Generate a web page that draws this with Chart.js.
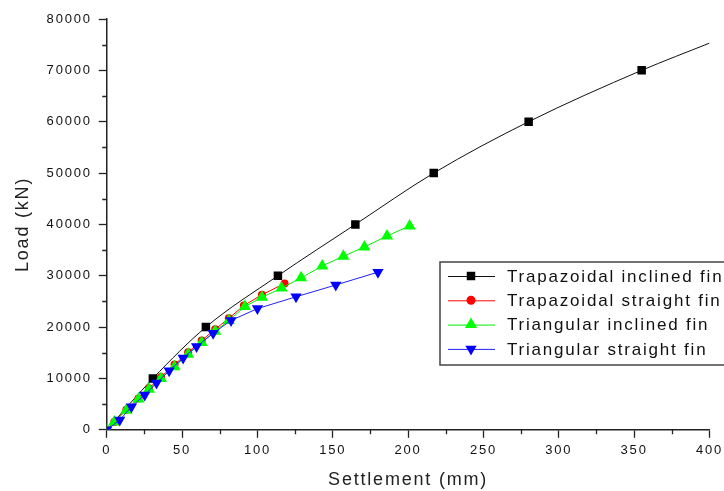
<!DOCTYPE html>
<html>
<head>
<meta charset="utf-8">
<script src="https://cdn.jsdelivr.net/npm/chart.js@4.4.1/dist/chart.umd.min.js"></script>
<style>
  html, body { margin: 0; padding: 0; background: #fff; overflow: hidden; }
  #wrap { width: 728px; height: 491px; }
</style>
</head>
<body>
<div id="wrap"><canvas id="loadChart"></canvas></div>
<script>
// settlement (mm) vs load (kN)
const trapInclinedX = [0, 30.6, 65.8, 113.6, 165, 217, 280, 355, 400];
const trapInclinedY = [0, 10000, 20000, 30000, 40000, 50000, 60000, 70000, 75300];
const trapInclinedR = [0, 6, 6, 6, 6, 6, 6, 6, 0];

const trapStraightX = [0, 5, 13, 21, 28, 36, 45, 54, 63, 72, 81, 91, 103, 118];
const trapStraightY = [0, 1500, 3900, 6100, 8100, 10300, 12700, 15100, 17400, 19600, 21700, 24200, 26300, 28500];

const triInclinedX = [0, 5, 13, 21, 28, 36, 45, 54, 63, 72, 81, 91.7, 103, 116, 129, 143, 157, 171, 186, 201];
const triInclinedY = [0, 1500, 3800, 6000, 7900, 10000, 12300, 14700, 17000, 19200, 21300, 24000, 25800, 27600, 29600, 31900, 33800, 35600, 37750, 39700];

const triStraightX = [0, 8.6, 16.4, 25.2, 33, 41.4, 50.7, 59.6, 70.6, 82.5, 100, 125.6, 152, 180];
const triStraightY = [0, 1900, 4500, 6800, 9100, 11500, 14000, 16200, 18800, 21300, 23600, 25900, 28200, 30700];

const xTicks = [0, 50, 100, 150, 200, 250, 300, 350, 400];
const yTicks = [0, 10000, 20000, 30000, 40000, 50000, 60000, 70000, 80000];

const seriesNames = ['Trapazoidal inclined fin', 'Trapazoidal straight fin', 'Triangular inclined fin', 'Triangular straight fin'];

const FONT = '"Liberation Sans", Arial, sans-serif';

function pts(xs, ys) {
    return xs.map(function (x, i) { return { x: x, y: ys[i] }; });
}

function drawMarker(ctx, style, x, y, r) {
    ctx.beginPath();
    if (style === 'rect') {
        const s = r * Math.SQRT1_2;
        ctx.rect(x - s, y - s, 2 * s, 2 * s);
    } else if (style === 'circle') {
        ctx.arc(x, y, r, 0, Math.PI * 2);
    } else {
        const dir = style === 'down' ? -1 : 1;
        for (let k = 0; k < 3; k++) {
            const a = k * 2 * Math.PI / 3;
            const px = x + Math.sin(a) * r;
            const py = y - dir * Math.cos(a) * r;
            if (k === 0) ctx.moveTo(px, py); else ctx.lineTo(px, py);
        }
        ctx.closePath();
    }
    ctx.fill();
}

const spacing = {
    id: 'spacing',
    beforeLayout(chart) { chart.ctx.letterSpacing = '1.8px'; },
    beforeDraw(chart) { chart.ctx.letterSpacing = '1.8px'; }
};

const minorTicks = {
    id: 'minorTicks',
    afterDraw(chart) {
        const ctx = chart.ctx;
        const xs = chart.scales.x;
        const ys = chart.scales.y;
        ctx.save();
        ctx.strokeStyle = '#222';
        ctx.lineWidth = 1.3;
        ctx.beginPath();
        for (let i = 0; i < xTicks.length - 1; i++) {
            const px = Math.round(xs.getPixelForValue((xTicks[i] + xTicks[i + 1]) / 2)) + 0.5;
            ctx.moveTo(px, xs.top);
            ctx.lineTo(px, xs.top + 4.5);
        }
        for (let i = 0; i < yTicks.length - 1; i++) {
            const py = Math.round(ys.getPixelForValue((yTicks[i] + yTicks[i + 1]) / 2)) + 0.5;
            ctx.moveTo(ys.right, py);
            ctx.lineTo(ys.right - 4.5, py);
        }
        ctx.stroke();
        ctx.restore();
    }
};

const boxLegend = {
    id: 'boxLegend',
    afterDraw(chart) {
        const ctx = chart.ctx;
        const left = 440, top = 262, bottom = 365;
        ctx.save();
        ctx.strokeStyle = '#444';
        ctx.lineWidth = 1.5;
        ctx.fillStyle = '#fff';
        ctx.fillRect(left, top, 300, bottom - top);
        ctx.strokeRect(left, top, 300, bottom - top);
        ctx.font = '17px ' + FONT;
        ctx.letterSpacing = '1.8px';
        ctx.textBaseline = 'middle';
        chart.data.datasets.forEach(function (ds, i) {
            const y = 276 + i * 24.3;
            ctx.strokeStyle = ds.borderColor;
            ctx.lineWidth = 1;
            ctx.beginPath();
            ctx.moveTo(448, y + 0.5);
            ctx.lineTo(495, y + 0.5);
            ctx.stroke();
            ctx.fillStyle = ds.pointBackgroundColor;
            drawMarker(ctx, ds.legendMarker, 471, y, ds.legendRadius);
            ctx.fillStyle = '#111';
            ctx.fillText(seriesNames[i], 507, y + 1);
        });
        ctx.restore();
    }
};

const ctx = document.getElementById('loadChart').getContext('2d');

new Chart(ctx, {
    type: 'scatter',
    data: {
        datasets: [
            {
                label: seriesNames[0],
                data: pts(trapInclinedX, trapInclinedY),
                showLine: true,
                borderColor: '#111',
                borderWidth: 1,
                cubicInterpolationMode: 'monotone',
                pointStyle: 'rect',
                pointRadius: trapInclinedR,
                pointBackgroundColor: '#000',
                pointBorderWidth: 0,
                legendMarker: 'rect',
                legendRadius: 6,
                order: 3
            },
            {
                label: seriesNames[1],
                data: pts(trapStraightX, trapStraightY),
                showLine: true,
                borderColor: '#ff0000',
                borderWidth: 1,
                pointStyle: 'circle',
                pointRadius: 4,
                pointBackgroundColor: '#ff0000',
                pointBorderWidth: 0,
                legendMarker: 'circle',
                legendRadius: 4.5,
                order: 2
            },
            {
                label: seriesNames[2],
                data: pts(triInclinedX, triInclinedY),
                showLine: true,
                borderColor: '#00ee00',
                borderWidth: 1,
                pointStyle: 'triangle',
                pointRadius: 7,
                pointBackgroundColor: '#00ff00',
                pointBorderWidth: 0,
                legendMarker: 'up',
                legendRadius: 7,
                order: 1
            },
            {
                label: seriesNames[3],
                data: pts(triStraightX, triStraightY),
                showLine: true,
                borderColor: '#2020ff',
                borderWidth: 1,
                pointStyle: 'triangle',
                rotation: 180,
                pointRadius: 6.5,
                pointBackgroundColor: '#0000ff',
                pointBorderWidth: 0,
                legendMarker: 'down',
                legendRadius: 6.5,
                order: 0
            }
        ]
    },
    options: {
        responsive: true,
        maintainAspectRatio: false,
        animation: false,
        layout: {
            padding: { left: 12, right: 0, top: 19, bottom: 0 }
        },
        plugins: {
            legend: { display: false },
            tooltip: { enabled: false }
        },
        scales: {
            x: {
                type: 'linear',
                min: 0,
                max: 400,
                afterBuildTicks: function (axis) {
                    axis.ticks = xTicks.map(function (v) { return { value: v }; });
                },
                grid: {
                    drawOnChartArea: false,
                    tickLength: 8,
                    tickColor: '#222',
                    tickWidth: 1.3
                },
                border: { color: '#222', width: 1.5 },
                ticks: {
                    color: '#111',
                    padding: 5,
                    maxRotation: 0,
                    font: { family: FONT, size: 13 }
                },
                title: {
                    display: true,
                    text: 'Settlement (mm)',
                    color: '#222',
                    padding: { top: 6, bottom: 0 },
                    font: { family: FONT, size: 18 }
                }
            },
            y: {
                min: 0,
                max: 80000,
                afterBuildTicks: function (axis) {
                    axis.ticks = yTicks.map(function (v) { return { value: v }; });
                },
                grid: {
                    drawOnChartArea: false,
                    tickLength: 8,
                    tickColor: '#222',
                    tickWidth: 1.3
                },
                border: { color: '#222', width: 1.5 },
                ticks: {
                    color: '#111',
                    padding: 7,
                    font: { family: FONT, size: 13 },
                    callback: function (v) { return String(v); }
                },
                title: {
                    display: true,
                    text: 'Load (kN)',
                    color: '#222',
                    padding: { top: 0, bottom: 6 },
                    font: { family: FONT, size: 18 }
                }
            }
        }
    },
    plugins: [spacing, minorTicks, boxLegend]
});
</script>
</body>
</html>
